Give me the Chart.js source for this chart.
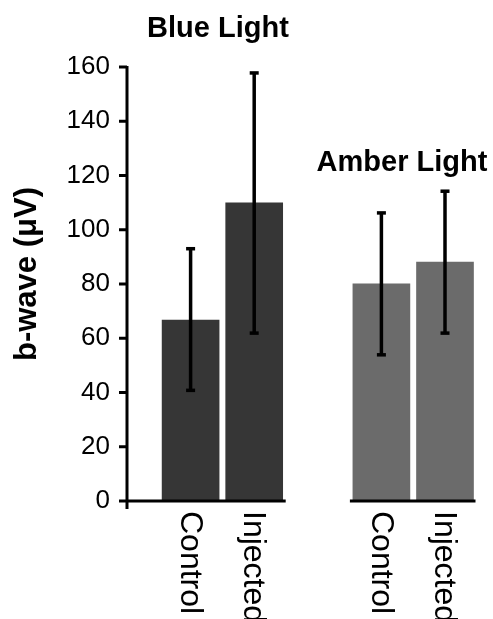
<!DOCTYPE html>
<html>
<head>
<meta charset="utf-8">
<script src="https://cdn.jsdelivr.net/npm/chart.js@4.4.1/dist/chart.umd.min.js"></script>
<style>
  html, body { margin: 0; padding: 0; background: #fff; }
  canvas { display: block; }
</style>
</head>
<body>
<canvas id="bwaveChart" width="493" height="619"></canvas>
<script>
// data
var conditions = ["Control", "Injected"];
var groupNames = ["Blue Light", "Amber Light"];
var blueMeans = [66.7, 109.9];
var blueLow = [40.7, 61.8];
var blueHigh = [93.1, 157.9];
var amberMeans = [80.1, 88.1];
var amberLow = [53.8, 61.8];
var amberHigh = [106.3, 114.3];
var yTicks = [0, 20, 40, 60, 80, 100, 120, 140, 160];

var FONT = "'Liberation Sans', Arial, Helvetica, sans-serif";
var BLUE_COL = "#363636";
var AMBER_COL = "#6b6b6b";

// one empty slot before each group
var labels = [""].concat(conditions, [""], conditions);
var values = [null].concat(blueMeans, [null], amberMeans);
var lows = [null].concat(blueLow, [null], amberLow);
var highs = [null].concat(blueHigh, [null], amberHigh);
var colors = labels.map(function (l, i) { return i < 3 ? BLUE_COL : AMBER_COL; });

var decorPlugin = {
  id: "decor",
  afterDatasetsDraw: function (chart) {
    var ctx = chart.ctx;
    var y = chart.scales.y;
    var area = chart.chartArea;
    var bars = chart.getDatasetMeta(0).data;
    var base = y.getPixelForValue(0);
    ctx.save();

    // error bars
    ctx.strokeStyle = "#000";
    ctx.fillStyle = "#000";
    for (var i = 0; i < values.length; i++) {
      if (values[i] === null) continue;
      var x = bars[i].x;
      var yt = y.getPixelForValue(highs[i]);
      var yb = y.getPixelForValue(lows[i]);
      ctx.lineWidth = 3.5;
      ctx.beginPath();
      ctx.moveTo(x, yt);
      ctx.lineTo(x, yb);
      ctx.stroke();
      ctx.fillRect(x - 4.5, yt - 1.5, 9, 3.5);
      ctx.fillRect(x - 4.5, yb - 2, 9, 3.5);
    }

    // y axis with ticks
    ctx.lineWidth = 3;
    ctx.lineCap = "butt";
    ctx.beginPath();
    ctx.moveTo(area.left, area.top - 1);
    ctx.lineTo(area.left, base + 8);
    ctx.stroke();
    yTicks.forEach(function (v) {
      var py = y.getPixelForValue(v);
      ctx.beginPath();
      ctx.moveTo(area.left - 8, py);
      ctx.lineTo(area.left, py);
      ctx.stroke();
    });

    // broken x axis, one piece under each group
    var half = bars[1].width / 2;
    ctx.beginPath();
    ctx.moveTo(area.left, base);
    ctx.lineTo(bars[2].x + half + 3, base);
    ctx.moveTo(bars[4].x - half - 3, base);
    ctx.lineTo(bars[5].x + half + 2, base);
    ctx.stroke();

    // rotated category labels
    ctx.font = "32px " + FONT;
    ctx.textAlign = "left";
    ctx.textBaseline = "middle";
    for (var j = 0; j < labels.length; j++) {
      if (!labels[j]) continue;
      ctx.save();
      ctx.translate(bars[j].x - 1, base + 10);
      ctx.rotate(Math.PI / 2);
      ctx.fillText(labels[j], 0, 0);
      ctx.restore();
    }

    // group titles
    ctx.font = "bold 29px " + FONT;
    ctx.textAlign = "center";
    ctx.fillText(groupNames[0], 218, 29);
    ctx.fillText(groupNames[1], 402, 163);

    // y axis title
    ctx.save();
    ctx.translate(27, 274);
    ctx.rotate(-Math.PI / 2);
    ctx.font = "bold 31px " + FONT;
    ctx.fillText("b-wave (\u03BCV)", 0, 0);
    ctx.restore();

    ctx.restore();
  }
};

var ctx = document.getElementById("bwaveChart").getContext("2d");
var bwaveChart = new Chart(ctx, {
  type: "bar",
  data: {
    labels: labels,
    datasets: [
      {
        data: values,
        backgroundColor: colors,
        borderWidth: 0,
        barThickness: 57,
        clip: false
      }
    ]
  },
  options: {
    responsive: false,
    animation: false,
    layout: { padding: { top: 67, right: 48, left: 0, bottom: 0 } },
    plugins: {
      legend: { display: false },
      tooltip: { enabled: false }
    },
    scales: {
      x: {
        type: "category",
        offset: false,
        grid: { display: false },
        border: { display: false },
        ticks: { display: false },
        afterFit: function (scale) { scale.height = 118; }
      },
      y: {
        min: 0,
        max: 160,
        grid: { display: false, drawTicks: false },
        border: { display: false },
        ticks: {
          color: "#000",
          padding: 17,
          font: { family: FONT, size: 26 }
        },
        afterBuildTicks: function (scale) {
          scale.ticks = yTicks.map(function (v) { return { value: v }; });
        },
        afterFit: function (scale) { scale.width = 127; }
      }
    }
  },
  plugins: [decorPlugin]
});
</script>
</body>
</html>
